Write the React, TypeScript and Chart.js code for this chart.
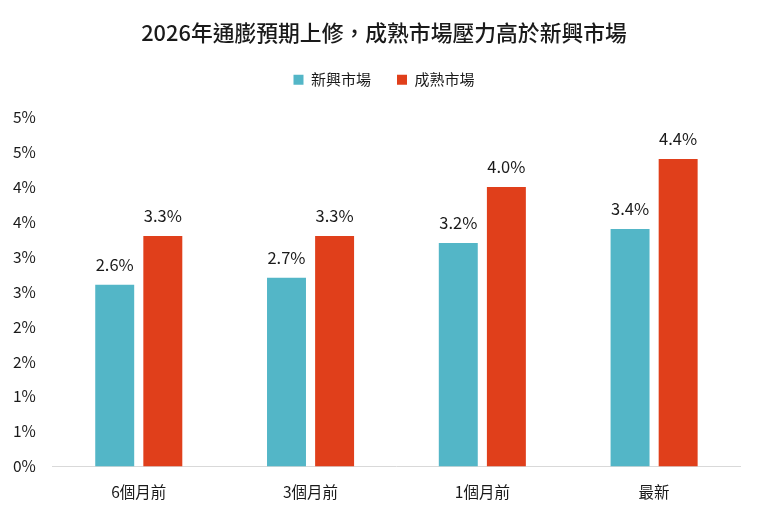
import React, { useEffect, useRef } from "react";
import { Chart, registerables } from "chart.js";

Chart.register(...registerables);

const titleText = "2026年通膨預期上修，成熟市場壓力高於新興市場";
const categories = ["6個月前", "3個月前", "1個月前", "最新"];
const emergingLabel = "新興市場";
const developedLabel = "成熟市場";
const emergingValues = [2.6, 2.7, 3.2, 3.4];
const developedValues = [3.3, 3.3, 4.0, 4.4];
const yMin = 0;
const yMax = 5;
const yStep = 0.5;

const TEAL = "#53B6C7";
const RED = "#E03F1B";
const TEXT = "#1a1a1a";
const FONT = "'Noto Sans CJK TC', 'Noto Sans', sans-serif";

// Extra space under the legend, and a small rightward nudge of the
// title and legend so they sit centred over the whole canvas width.
const headerLayout = {
  id: "headerLayout",
  beforeInit(chart: any) {
    const legend = chart.legend;
    if (!legend) return;
    const origFit = legend.fit;
    legend.fit = function () {
      origFit.call(this);
      this.height += 20;
    };
  },
  afterLayout(chart: any) {
    const shift = 12;
    [chart.legend, chart.titleBlock].forEach((box: any) => {
      if (!box) return;
      box.left += shift;
      box.right += shift;
    });
  },
};

const valueLabels = {
  id: "valueLabels",
  afterDatasetsDraw(chart: any) {
    const ctx = chart.ctx;
    ctx.save();
    ctx.font = `16.5px ${FONT}`;
    ctx.fillStyle = TEXT;
    ctx.textAlign = "center";
    ctx.textBaseline = "bottom";
    chart.data.datasets.forEach((ds: any, di: number) => {
      const meta = chart.getDatasetMeta(di);
      meta.data.forEach((bar: any, i: number) => {
        const v = ds.data[i] as number;
        ctx.fillText(v.toFixed(1) + "%", bar.x, bar.y - 12);
      });
    });
    ctx.restore();
  },
};

export default function App() {
  const canvasRef = useRef<HTMLCanvasElement | null>(null);

  useEffect(() => {
    if (!canvasRef.current) return;
    const chart = new Chart(canvasRef.current, {
      type: "bar",
      data: {
        labels: categories,
        datasets: [
          {
            label: emergingLabel,
            data: emergingValues,
            backgroundColor: TEAL,
            barPercentage: 0.81,
            categoryPercentage: 0.56,
          },
          {
            label: developedLabel,
            data: developedValues,
            backgroundColor: RED,
            barPercentage: 0.81,
            categoryPercentage: 0.56,
          },
        ],
      },
      options: {
        animation: false,
        responsive: false,
        maintainAspectRatio: false,
        layout: { padding: { left: 4, right: 20, top: 0, bottom: 9 } },
        plugins: {
          title: {
            display: true,
            text: titleText,
            color: TEXT,
            font: { family: FONT, size: 21.8, weight: "500" },
            padding: { top: 20, bottom: 0 },
          },
          legend: {
            display: true,
            position: "top",
            labels: {
              color: TEXT,
              font: { family: FONT, size: 15 },
              boxWidth: 10,
              boxHeight: 10,
              padding: 26,
            },
          },
          tooltip: { enabled: false },
        },
        scales: {
          x: {
            grid: { display: false },
            border: { display: true, color: "#d9d9d9", width: 1 },
            ticks: {
              color: TEXT,
              font: { family: FONT, size: 15.5 },
              padding: 8,
            },
          },
          y: {
            min: yMin,
            max: yMax,
            grid: { display: false },
            border: { display: false },
            ticks: {
              stepSize: yStep,
              color: TEXT,
              font: { family: FONT, size: 15.5 },
              padding: 9,
              callback: (v: any) => Math.round(Number(v)) + "%",
            },
          },
        },
      },
      plugins: [headerLayout, valueLabels],
    });
    return () => chart.destroy();
  }, []);

  return (
    <div style={{ position: "fixed", left: 0, top: 0, width: 760, height: 518, background: "#fff" }}>
      <canvas ref={canvasRef} width={760} height={518} />
    </div>
  );
}
